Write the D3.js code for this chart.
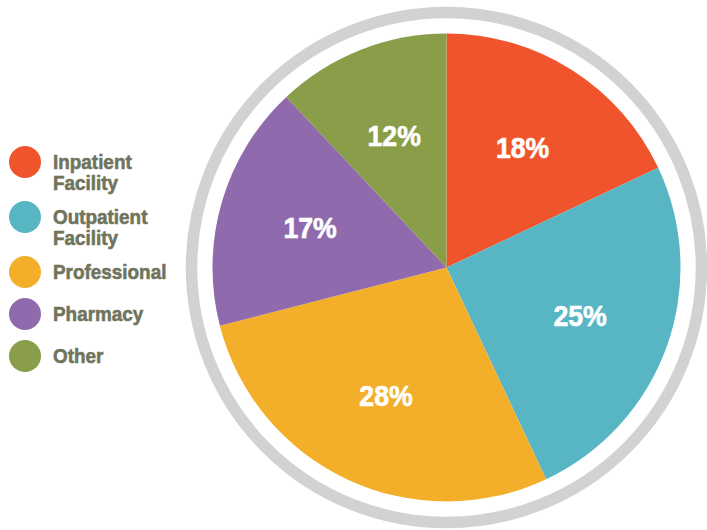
<!DOCTYPE html>
<html>
<head>
<meta charset="utf-8">
<script src="https://cdn.jsdelivr.net/npm/d3@7/dist/d3.min.js"></script>
<style>
  body { margin: 0; background: #fff; }
  text { font-family: "Liberation Sans", Arial, sans-serif; font-weight: bold; }
</style>
</head>
<body>
<div id="chart"></div>
<script>
// Data
const categories = ["Inpatient Facility", "Outpatient Facility", "Professional", "Pharmacy", "Other"];
const legendLines = [["Inpatient", "Facility"], ["Outpatient", "Facility"], ["Professional"], ["Pharmacy"], ["Other"]];
const shares = [18, 25, 28, 17, 12];
const colors = ["#F0542D", "#58B6C4", "#F4AF2A", "#8F6BAD", "#8A9D48"];

const svgWidth = 707;
const svgHeight = 530;
const cx = 446.5, cy = 267.5;
const radius = 234;

const svg = d3.select("#chart").append("svg")
    .attr("width", svgWidth)
    .attr("height", svgHeight);

// Outer grey ring
svg.append("circle")
    .attr("cx", cx)
    .attr("cy", cy)
    .attr("r", 255)
    .attr("fill", "none")
    .attr("stroke", "#D1D2D4")
    .attr("stroke-width", 11.5);

const data = categories.map((c, i) => ({ name: c, value: shares[i], color: colors[i] }));

const pie = d3.pie()
    .value(d => d.value)
    .sort(null);

const arc = d3.arc()
    .innerRadius(0)
    .outerRadius(radius);

const labelArc = d3.arc()
    .innerRadius(142)
    .outerRadius(142);

const g = svg.append("g")
    .attr("transform", `translate(${cx}, ${cy})`);

const arcs = pie(data);

g.selectAll("path")
    .data(arcs)
    .enter().append("path")
    .attr("d", arc)
    .attr("fill", d => d.data.color);

// percentage labels, squeezed a bit to look like the condensed face
g.selectAll(".pct")
    .data(arcs)
    .enter().append("text")
    .attr("class", "pct")
    .attr("transform", d => `translate(${labelArc.centroid(d)}) scale(0.92, 1)`)
    .attr("text-anchor", "middle")
    .attr("dy", "0.36em")
    .attr("fill", "#fff")
    .attr("stroke", "#fff")
    .attr("stroke-width", 0.6)
    .style("font-size", "29px")
    .text(d => d.data.value + "%");

// Legend: two-line entries take more room
const ys = [];
let acc = 162;
legendLines.forEach(l => {
    ys.push(acc);
    acc += l.length === 2 ? 55 : 42;
});

const item = svg.append("g").selectAll(".item")
    .data(categories)
    .enter().append("g")
    .attr("class", "item")
    .attr("transform", (d, i) => `translate(0, ${ys[i]})`);

item.append("circle")
    .attr("cx", 25)
    .attr("cy", 0)
    .attr("r", 16)
    .attr("fill", (d, i) => colors[i]);

item.each(function(d, i) {
    d3.select(this).selectAll(".lbl")
        .data(legendLines[i])
        .enter().append("text")
        .attr("class", "lbl")
        .attr("transform", (t, j) => `translate(53, ${7 + j * 21}) scale(0.9, 1)`)
        .attr("fill", "#70745C")
        .attr("stroke", "#70745C")
        .attr("stroke-width", 0.6)
        .style("font-size", "21px")
        .text(t => t);
});
</script>
</body>
</html>
